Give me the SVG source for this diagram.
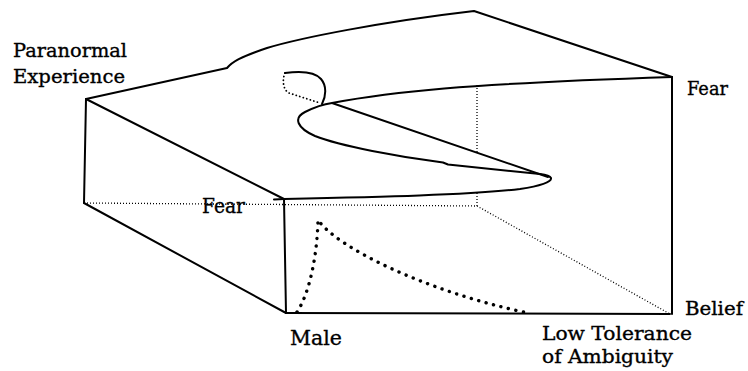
<svg xmlns="http://www.w3.org/2000/svg" width="748" height="371" viewBox="0 0 748 371">
<style>
.s{fill:none;stroke:#000;stroke-width:2;stroke-linejoin:round;stroke-linecap:round}
.d{fill:none;stroke:#000;stroke-width:1.3;stroke-dasharray:1 2}
.b{fill:none;stroke:#000;stroke-width:3.4;stroke-dasharray:0.1 7.6;stroke-linecap:round}
.f{fill:none;stroke:#000;stroke-width:1.8;stroke-dasharray:0.1 3.6;stroke-linecap:round}
text{font-family:"DejaVu Serif","Liberation Serif",serif;font-size:19px;fill:#000;stroke:#000;stroke-width:0.35}
</style>
<rect width="748" height="371" fill="#fff"/>
<g id="connectors">
<path class="d" d="M84,203 L477,206"/>
<path class="d" d="M477,85 L477,152 M477,193 L477,206"/>
<path class="d" d="M477,206 L670,314"/>
<path class="b" d="M297,312 C309,294 317,258 318,220 C336,246 420,290 528,313"/>
<path class="f" d="M285,73 C282,80 283,90 289,93 L320,103"/>
</g>
<g id="box">
<path class="s" d="M86,99 L84,203"/>
<path class="s" d="M86,99 L284,199"/>
<path class="s" d="M84,203 L286,313"/>
<path class="s" d="M284,199 L286,313"/>
<path class="s" d="M286,313 L670,314"/>
<path class="s" d="M672,77 L672,314"/>
<path class="s" d="M86,99 L227,68 C232,62 240,57 267,48 C300,38 380,22 474,11 L672,77"/>
</g>
<g id="surface">
<path class="s" d="M274,199.5 L284,199 C380,197 470,195 520,189 C540,186 552,182 551,178 C550,176 547,175 540,174 L448,164.5 L443,162.5 C400,157 340,146 315,136 C297,128 293,118 305,112 C315,107 325,104 332,103 C390,92 460,84 672,77"/>
<path class="s" d="M332,103 L548,177"/>
<path class="s" d="M322,104 C326,96 327,86 321,79 C315,72 300,71 285,73"/>
</g>
<g id="labels">
<text x="13" y="57" textLength="114" lengthAdjust="spacingAndGlyphs">Paranormal</text>
<text x="13" y="83" textLength="112" lengthAdjust="spacingAndGlyphs">Experience</text>
<text x="687" y="95" textLength="41" lengthAdjust="spacingAndGlyphs">Fear</text>
<text x="202" y="213" style="font-size:20px" textLength="43" lengthAdjust="spacingAndGlyphs">Fear</text>
<text x="290" y="345" style="font-size:21px" textLength="52" lengthAdjust="spacingAndGlyphs">Male</text>
<text x="685" y="315" textLength="58" lengthAdjust="spacingAndGlyphs">Belief</text>
<text x="542" y="340" textLength="150" lengthAdjust="spacingAndGlyphs">Low Tolerance</text>
<text x="542" y="363" textLength="131" lengthAdjust="spacingAndGlyphs">of Ambiguity</text>
</g>
</svg>
